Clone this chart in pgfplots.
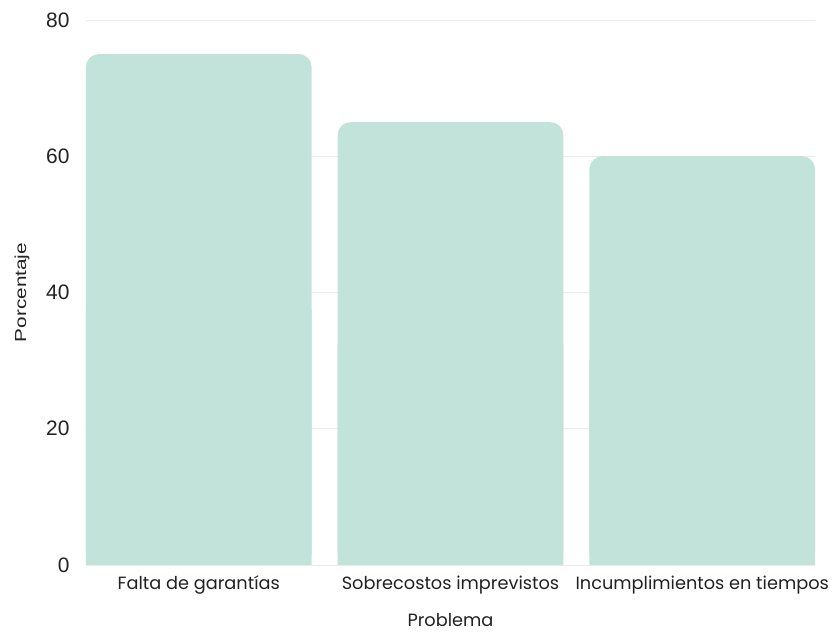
\documentclass[border=0pt]{standalone}
\usepackage{pgfplots}
\pgfplotsset{compat=1.18}
\usepackage{pgfplotstable}
\usepackage{fontspec}
\setmainfont{Liberation Sans}
\newfontfamily\catfont{Poppins}

\definecolor{barfill}{HTML}{C2E3D9}
\definecolor{gridgray}{HTML}{EBEBEB}
\definecolor{textgray}{HTML}{222222}

\pgfplotstableread{
x v
0 75
1 65
2 60
}\problemas

\begin{document}
\begin{tikzpicture}[x=1bp,y=1bp]
\begin{axis}[
  at={(0,0)}, anchor=south west,
  scale only axis,
  width=729bp, height=545bp,
  xmin=-0.448, xmax=2.448,
  ymin=0, ymax=80,
  xtick=data,
  xticklabels={Falta de garantías, Sobrecostos imprevistos, Incumplimientos en tiempos},
  ytick={0,20,40,60,80},
  ymajorgrids,
  grid style={gridgray, line width=0.8bp},
  axis line style={draw=none},
  axis x line*=bottom,
  axis y line*=left,
  x axis line style={draw=gridgray, line width=0.8bp},
  major tick length=0pt,
  tick label style={text=textgray},
  yticklabel style={font=\fontsize{21}{24}\selectfont, xshift=-13bp},
  xticklabel style={font=\catfont\fontsize{17.8}{20}\selectfont, yshift=-7.5bp},
  ylabel={\scalebox{1.3}[1]{Porcentaje}},
  ylabel style={font=\fontsize{16}{19}\selectfont, text=textgray, yshift=10bp},
  xlabel={Problema},
  xlabel style={font=\catfont\fontsize{17.8}{20}\selectfont, text=textgray, yshift=-12bp},
  /pgf/number format/assume math mode=true,
  bar width=0.897,
  clip=false,
]
% rounded bars
\addplot[ybar, fill=barfill, draw=none, rounded corners=13bp]
  table[x=x, y=v] {\problemas};
% square lower half so only the top corners stay rounded
\addplot[ybar, fill=barfill, draw=none]
  table[x=x, y expr=\thisrow{v}/2] {\problemas};
\end{axis}
\pgfresetboundingbox
\path[use as bounding box] (-86,-67) rectangle (746,565);
\end{tikzpicture}
\end{document}
